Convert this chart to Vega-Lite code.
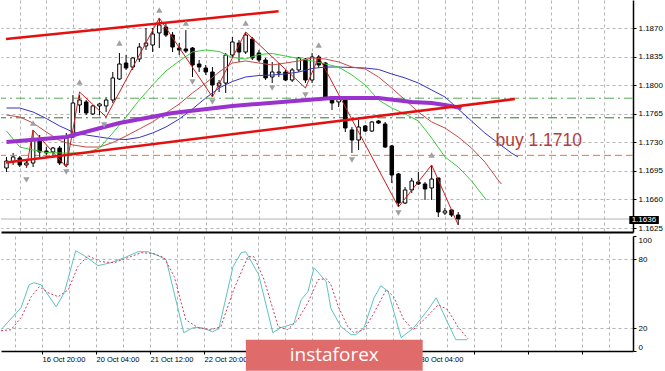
{
  "$schema": "https://vega.github.io/schema/vega-lite/v6.json",
  "padding": 0,
  "background": "white",
  "spacing": 4,
  "bounds": "flush",
  "config": {
    "view": {"stroke": null},
    "axis": {"labelFont": "Liberation Sans", "labelFontSize": 8, "labelColor": "#000", "gridColor": "#b4b4b4", "gridDash": [3, 3], "gridWidth": 1, "gridOpacity": 1, "domainColor": "#000", "tickColor": "#000", "tickSize": 3, "labelPadding": 2, "labelOverlap": false, "labelBound": false}
  },
  "datasets": {
    "candles": [
      {"t": 2, "o": 1.16985, "h": 1.1712, "l": 1.16936, "c": 1.17071},
      {"t": 3, "o": 1.17059, "h": 1.17169, "l": 1.17022, "c": 1.1712},
      {"t": 4, "o": 1.17108, "h": 1.17132, "l": 1.16997, "c": 1.17022},
      {"t": 5, "o": 1.17022, "h": 1.17071, "l": 1.16985, "c": 1.17046},
      {"t": 6, "o": 1.17046, "h": 1.17451, "l": 1.16997, "c": 1.17328},
      {"t": 7, "o": 1.17328, "h": 1.17389, "l": 1.1712, "c": 1.17181},
      {"t": 8, "o": 1.17193, "h": 1.17242, "l": 1.17108, "c": 1.17169},
      {"t": 9, "o": 1.17181, "h": 1.17242, "l": 1.1712, "c": 1.1723},
      {"t": 10, "o": 1.1723, "h": 1.17255, "l": 1.17022, "c": 1.17046},
      {"t": 11, "o": 1.17022, "h": 1.17414, "l": 1.16997, "c": 1.17365},
      {"t": 12, "o": 1.17365, "h": 1.17879, "l": 1.17353, "c": 1.17781},
      {"t": 13, "o": 1.17757, "h": 1.17879, "l": 1.17659, "c": 1.17818},
      {"t": 14, "o": 1.17794, "h": 1.17818, "l": 1.17634, "c": 1.17659},
      {"t": 15, "o": 1.17647, "h": 1.17757, "l": 1.17634, "c": 1.17745},
      {"t": 16, "o": 1.17745, "h": 1.17782, "l": 1.17634, "c": 1.17769},
      {"t": 17, "o": 1.17745, "h": 1.17855, "l": 1.17671, "c": 1.17818},
      {"t": 18, "o": 1.17818, "h": 1.18161, "l": 1.17781, "c": 1.18088},
      {"t": 19, "o": 1.18075, "h": 1.18394, "l": 1.18063, "c": 1.18259},
      {"t": 20, "o": 1.18271, "h": 1.18369, "l": 1.18186, "c": 1.1821},
      {"t": 21, "o": 1.18222, "h": 1.18345, "l": 1.18186, "c": 1.18333},
      {"t": 22, "o": 1.1832, "h": 1.18516, "l": 1.18284, "c": 1.18467},
      {"t": 23, "o": 1.1848, "h": 1.187, "l": 1.18431, "c": 1.18516},
      {"t": 24, "o": 1.18492, "h": 1.187, "l": 1.18406, "c": 1.18627},
      {"t": 25, "o": 1.18639, "h": 1.18823, "l": 1.18455, "c": 1.18737},
      {"t": 26, "o": 1.18712, "h": 1.18749, "l": 1.1859, "c": 1.18614},
      {"t": 27, "o": 1.18614, "h": 1.18651, "l": 1.18406, "c": 1.18467},
      {"t": 28, "o": 1.18455, "h": 1.18516, "l": 1.18369, "c": 1.18431},
      {"t": 29, "o": 1.18443, "h": 1.18676, "l": 1.18394, "c": 1.18418},
      {"t": 30, "o": 1.18455, "h": 1.18467, "l": 1.181, "c": 1.18247},
      {"t": 31, "o": 1.18259, "h": 1.18308, "l": 1.18161, "c": 1.18222},
      {"t": 32, "o": 1.1821, "h": 1.18247, "l": 1.18124, "c": 1.18161},
      {"t": 33, "o": 1.18161, "h": 1.18222, "l": 1.17855, "c": 1.18002},
      {"t": 34, "o": 1.1799, "h": 1.18063, "l": 1.17916, "c": 1.18026},
      {"t": 35, "o": 1.18026, "h": 1.18394, "l": 1.17904, "c": 1.18369},
      {"t": 36, "o": 1.18369, "h": 1.1859, "l": 1.18333, "c": 1.18529},
      {"t": 37, "o": 1.18516, "h": 1.18553, "l": 1.18284, "c": 1.18406},
      {"t": 38, "o": 1.18406, "h": 1.18651, "l": 1.18382, "c": 1.18614},
      {"t": 39, "o": 1.18565, "h": 1.1859, "l": 1.18308, "c": 1.18333},
      {"t": 40, "o": 1.18394, "h": 1.18431, "l": 1.18284, "c": 1.18308},
      {"t": 41, "o": 1.18308, "h": 1.18333, "l": 1.18063, "c": 1.18088},
      {"t": 42, "o": 1.181, "h": 1.18284, "l": 1.18026, "c": 1.18161},
      {"t": 43, "o": 1.18149, "h": 1.18271, "l": 1.181, "c": 1.18161},
      {"t": 44, "o": 1.18161, "h": 1.18186, "l": 1.18051, "c": 1.18063},
      {"t": 45, "o": 1.18063, "h": 1.1821, "l": 1.18039, "c": 1.18186},
      {"t": 46, "o": 1.18186, "h": 1.18345, "l": 1.18161, "c": 1.18333},
      {"t": 47, "o": 1.1832, "h": 1.18333, "l": 1.18026, "c": 1.18063},
      {"t": 48, "o": 1.18063, "h": 1.18394, "l": 1.18026, "c": 1.18345},
      {"t": 49, "o": 1.18345, "h": 1.18369, "l": 1.1821, "c": 1.18247},
      {"t": 50, "o": 1.18271, "h": 1.18284, "l": 1.17818, "c": 1.17855},
      {"t": 51, "o": 1.17855, "h": 1.17867, "l": 1.17696, "c": 1.17781},
      {"t": 52, "o": 1.17794, "h": 1.17855, "l": 1.17732, "c": 1.1783},
      {"t": 53, "o": 1.17818, "h": 1.17843, "l": 1.17426, "c": 1.17475},
      {"t": 54, "o": 1.17451, "h": 1.17487, "l": 1.17169, "c": 1.17328},
      {"t": 55, "o": 1.17328, "h": 1.17573, "l": 1.17206, "c": 1.17487},
      {"t": 56, "o": 1.175, "h": 1.17512, "l": 1.17426, "c": 1.17438},
      {"t": 57, "o": 1.17438, "h": 1.17561, "l": 1.17426, "c": 1.17549},
      {"t": 58, "o": 1.17561, "h": 1.17573, "l": 1.17524, "c": 1.17536},
      {"t": 59, "o": 1.17524, "h": 1.17549, "l": 1.1723, "c": 1.17242},
      {"t": 60, "o": 1.17255, "h": 1.17267, "l": 1.16801, "c": 1.16899},
      {"t": 61, "o": 1.16912, "h": 1.16924, "l": 1.16507, "c": 1.16556},
      {"t": 62, "o": 1.16556, "h": 1.16752, "l": 1.16544, "c": 1.16716},
      {"t": 63, "o": 1.16716, "h": 1.16863, "l": 1.16679, "c": 1.16826},
      {"t": 64, "o": 1.16814, "h": 1.16936, "l": 1.16777, "c": 1.16789},
      {"t": 65, "o": 1.16789, "h": 1.16814, "l": 1.16593, "c": 1.16728},
      {"t": 66, "o": 1.1674, "h": 1.17022, "l": 1.16593, "c": 1.1685},
      {"t": 67, "o": 1.16863, "h": 1.16863, "l": 1.16385, "c": 1.16446},
      {"t": 68, "o": 1.16434, "h": 1.16495, "l": 1.16409, "c": 1.16458},
      {"t": 69, "o": 1.16471, "h": 1.16483, "l": 1.16385, "c": 1.16409},
      {"t": 70, "o": 1.16409, "h": 1.16446, "l": 1.16287, "c": 1.1636}
    ],
    "ind": [
      {"s": "jaw", "t": 2, "v": 1.1772}, {"s": "jaw", "t": 4, "v": 1.1772}, {"s": "jaw", "t": 6, "v": 1.17671}, {"s": "jaw", "t": 8, "v": 1.17591}, {"s": "jaw", "t": 10, "v": 1.175}, {"s": "jaw", "t": 12, "v": 1.17426}, {"s": "jaw", "t": 14, "v": 1.17389}, {"s": "jaw", "t": 16, "v": 1.17365}, {"s": "jaw", "t": 18, "v": 1.1734}, {"s": "jaw", "t": 20, "v": 1.17334}, {"s": "jaw", "t": 22, "v": 1.17359}, {"s": "jaw", "t": 24, "v": 1.17414}, {"s": "jaw", "t": 26, "v": 1.17487}, {"s": "jaw", "t": 28, "v": 1.17585}, {"s": "jaw", "t": 30, "v": 1.17708}, {"s": "jaw", "t": 32, "v": 1.17843}, {"s": "jaw", "t": 34, "v": 1.17965}, {"s": "jaw", "t": 36, "v": 1.18045}, {"s": "jaw", "t": 38, "v": 1.181}, {"s": "jaw", "t": 40, "v": 1.18118}, {"s": "jaw", "t": 42, "v": 1.18124}, {"s": "jaw", "t": 44, "v": 1.18137}, {"s": "jaw", "t": 46, "v": 1.18161}, {"s": "jaw", "t": 48, "v": 1.18204}, {"s": "jaw", "t": 50, "v": 1.18222}, {"s": "jaw", "t": 52, "v": 1.18222}, {"s": "jaw", "t": 54, "v": 1.18216}, {"s": "jaw", "t": 56, "v": 1.1821}, {"s": "jaw", "t": 58, "v": 1.18192}, {"s": "jaw", "t": 60, "v": 1.18137}, {"s": "jaw", "t": 62, "v": 1.18088}, {"s": "jaw", "t": 64, "v": 1.18026}, {"s": "jaw", "t": 66, "v": 1.17941}, {"s": "jaw", "t": 68, "v": 1.17855}, {"s": "jaw", "t": 70, "v": 1.17708}, {"s": "jaw", "t": 72, "v": 1.17561}, {"s": "jaw", "t": 74, "v": 1.17414}, {"s": "jaw", "t": 76, "v": 1.17291}, {"s": "jaw", "t": 78, "v": 1.17169}, {"s": "jaw", "t": 79, "v": 1.1712},
      {"s": "teeth", "t": 2, "v": 1.17634}, {"s": "teeth", "t": 4, "v": 1.1761}, {"s": "teeth", "t": 6, "v": 1.17536}, {"s": "teeth", "t": 8, "v": 1.17426}, {"s": "teeth", "t": 10, "v": 1.17322}, {"s": "teeth", "t": 12, "v": 1.17267}, {"s": "teeth", "t": 14, "v": 1.17242}, {"s": "teeth", "t": 16, "v": 1.17242}, {"s": "teeth", "t": 18, "v": 1.17297}, {"s": "teeth", "t": 20, "v": 1.17377}, {"s": "teeth", "t": 22, "v": 1.17463}, {"s": "teeth", "t": 24, "v": 1.17549}, {"s": "teeth", "t": 26, "v": 1.17659}, {"s": "teeth", "t": 28, "v": 1.17769}, {"s": "teeth", "t": 30, "v": 1.17904}, {"s": "teeth", "t": 32, "v": 1.18026}, {"s": "teeth", "t": 34, "v": 1.18161}, {"s": "teeth", "t": 36, "v": 1.18271}, {"s": "teeth", "t": 38, "v": 1.18296}, {"s": "teeth", "t": 40, "v": 1.18271}, {"s": "teeth", "t": 42, "v": 1.18247}, {"s": "teeth", "t": 44, "v": 1.18271}, {"s": "teeth", "t": 46, "v": 1.18296}, {"s": "teeth", "t": 48, "v": 1.18333}, {"s": "teeth", "t": 50, "v": 1.1832}, {"s": "teeth", "t": 52, "v": 1.18284}, {"s": "teeth", "t": 54, "v": 1.18222}, {"s": "teeth", "t": 56, "v": 1.18198}, {"s": "teeth", "t": 58, "v": 1.181}, {"s": "teeth", "t": 60, "v": 1.17965}, {"s": "teeth", "t": 62, "v": 1.17818}, {"s": "teeth", "t": 64, "v": 1.17671}, {"s": "teeth", "t": 66, "v": 1.17549}, {"s": "teeth", "t": 68, "v": 1.17475}, {"s": "teeth", "t": 70, "v": 1.17365}, {"s": "teeth", "t": 72, "v": 1.1723}, {"s": "teeth", "t": 74, "v": 1.17059}, {"s": "teeth", "t": 76, "v": 1.16838}, {"s": "teeth", "t": 76.5, "v": 1.16789},
      {"s": "lips", "t": 2, "v": 1.17438}, {"s": "lips", "t": 4, "v": 1.17242}, {"s": "lips", "t": 6, "v": 1.17206}, {"s": "lips", "t": 8, "v": 1.17175}, {"s": "lips", "t": 10, "v": 1.17169}, {"s": "lips", "t": 12, "v": 1.17169}, {"s": "lips", "t": 14, "v": 1.17169}, {"s": "lips", "t": 16, "v": 1.1723}, {"s": "lips", "t": 18, "v": 1.17414}, {"s": "lips", "t": 20, "v": 1.1761}, {"s": "lips", "t": 22, "v": 1.17818}, {"s": "lips", "t": 24, "v": 1.18002}, {"s": "lips", "t": 26, "v": 1.18173}, {"s": "lips", "t": 28, "v": 1.18296}, {"s": "lips", "t": 30, "v": 1.18406}, {"s": "lips", "t": 32, "v": 1.18431}, {"s": "lips", "t": 34, "v": 1.18412}, {"s": "lips", "t": 36, "v": 1.18339}, {"s": "lips", "t": 38, "v": 1.1832}, {"s": "lips", "t": 40, "v": 1.18375}, {"s": "lips", "t": 42, "v": 1.18388}, {"s": "lips", "t": 44, "v": 1.18357}, {"s": "lips", "t": 46, "v": 1.18326}, {"s": "lips", "t": 48, "v": 1.18296}, {"s": "lips", "t": 50, "v": 1.18259}, {"s": "lips", "t": 52, "v": 1.18222}, {"s": "lips", "t": 54, "v": 1.18124}, {"s": "lips", "t": 56, "v": 1.18002}, {"s": "lips", "t": 58, "v": 1.17818}, {"s": "lips", "t": 60, "v": 1.1772}, {"s": "lips", "t": 62, "v": 1.17647}, {"s": "lips", "t": 64, "v": 1.17561}, {"s": "lips", "t": 66, "v": 1.17353}, {"s": "lips", "t": 68, "v": 1.1712}, {"s": "lips", "t": 70, "v": 1.16997}, {"s": "lips", "t": 72, "v": 1.16826}, {"s": "lips", "t": 74, "v": 1.16618}, {"s": "lips", "t": 74.2, "v": 1.16593},
      {"s": "zig", "t": 5, "v": 1.16985}, {"s": "zig", "t": 6, "v": 1.17451}, {"s": "zig", "t": 11, "v": 1.16997}, {"s": "zig", "t": 13, "v": 1.17916}, {"s": "zig", "t": 17, "v": 1.1761}, {"s": "zig", "t": 25, "v": 1.18823}, {"s": "zig", "t": 33, "v": 1.17855}, {"s": "zig", "t": 38, "v": 1.18651}, {"s": "zig", "t": 47, "v": 1.17965}, {"s": "zig", "t": 49, "v": 1.18345}, {"s": "zig", "t": 61, "v": 1.16507}, {"s": "zig", "t": 66, "v": 1.17022}, {"s": "zig", "t": 70, "v": 1.16287}
    ],
    "ma200": [
      {"t": 2, "v": 1.17304}, {"t": 11, "v": 1.17365}, {"t": 19, "v": 1.17536}, {"t": 27, "v": 1.17659}, {"t": 36, "v": 1.17745}, {"t": 51, "v": 1.17843}, {"t": 58, "v": 1.17843}, {"t": 63, "v": 1.17794}, {"t": 66, "v": 1.17781}, {"t": 68, "v": 1.17757}, {"t": 70.5, "v": 1.1772}
    ],
    "channel": [
      {"line": "upper", "t": 1.926, "v": 1.18565}, {"line": "upper", "t": 42.96, "v": 1.18906},
      {"line": "lower", "t": 1.926, "v": 1.17052}, {"line": "lower", "t": 78.52, "v": 1.1783}
    ],
    "levels": [
      {"kind": "g1", "v": 1.1784}, {"kind": "g2", "v": 1.176}, {"kind": "buy", "v": 1.1714}, {"kind": "bid", "v": 1.1636}
    ],
    "fractals": [
      {"dir": "up", "t": 6, "v": 1.17536}, {"dir": "up", "t": 13, "v": 1.18039}, {"dir": "up", "t": 19, "v": 1.18516}, {"dir": "up", "t": 25, "v": 1.18921}, {"dir": "up", "t": 29, "v": 1.18761}, {"dir": "up", "t": 38, "v": 1.18761}, {"dir": "up", "t": 49, "v": 1.18492}, {"dir": "up", "t": 66, "v": 1.17144},
      {"dir": "down", "t": 5, "v": 1.16838}, {"dir": "down", "t": 11, "v": 1.16936}, {"dir": "down", "t": 16.7, "v": 1.17512}, {"dir": "down", "t": 30, "v": 1.18039}, {"dir": "down", "t": 33, "v": 1.17794}, {"dir": "down", "t": 42, "v": 1.17965}, {"dir": "down", "t": 47, "v": 1.17879}, {"dir": "down", "t": 54, "v": 1.17083}, {"dir": "down", "t": 61, "v": 1.16434}
    ],
    "notes": [
      {"label": "buy 1.1710", "t": 75.6, "v": 1.1732}
    ],
    "stoch": [
      {"s": "K", "t": 1.93, "v": 18.5}, {"s": "K", "t": 4.9, "v": 37.7}, {"s": "K", "t": 6.1, "v": 57.6}, {"s": "K", "t": 6.8, "v": 59.4}, {"s": "K", "t": 7.85, "v": 57.6}, {"s": "K", "t": 10.1, "v": 38.5}, {"s": "K", "t": 11.3, "v": 50.7}, {"s": "K", "t": 13.0, "v": 87.2}, {"s": "K", "t": 14.5, "v": 82}, {"s": "K", "t": 16.3, "v": 74.2}, {"s": "K", "t": 18.2, "v": 76.8}, {"s": "K", "t": 20.2, "v": 81.1}, {"s": "K", "t": 22.2, "v": 86.3}, {"s": "K", "t": 23.7, "v": 86.3}, {"s": "K", "t": 25.2, "v": 82.9}, {"s": "K", "t": 26.4, "v": 79.4}, {"s": "K", "t": 29.0, "v": 15.9}, {"s": "K", "t": 30.4, "v": 20.3}, {"s": "K", "t": 31.6, "v": 20.3}, {"s": "K", "t": 33.3, "v": 16.8}, {"s": "K", "t": 34.2, "v": 19.4}, {"s": "K", "t": 36.3, "v": 73.3}, {"s": "K", "t": 37.5, "v": 85.5}, {"s": "K", "t": 38.2, "v": 86.3}, {"s": "K", "t": 40.1, "v": 66.3}, {"s": "K", "t": 42.2, "v": 15.9}, {"s": "K", "t": 43.4, "v": 20.3}, {"s": "K", "t": 45.3, "v": 23.7}, {"s": "K", "t": 46.4, "v": 44.6}, {"s": "K", "t": 47.4, "v": 51.6}, {"s": "K", "t": 48.3, "v": 72.4}, {"s": "K", "t": 50.1, "v": 60.3}, {"s": "K", "t": 50.8, "v": 37}, {"s": "K", "t": 52.3, "v": 21.1}, {"s": "K", "t": 53.8, "v": 14.2}, {"s": "K", "t": 54.5, "v": 14.2}, {"s": "K", "t": 55.7, "v": 20.3}, {"s": "K", "t": 57.2, "v": 46.3}, {"s": "K", "t": 58.2, "v": 56.8}, {"s": "K", "t": 59.3, "v": 51.6}, {"s": "K", "t": 61.2, "v": 11.6}, {"s": "K", "t": 63.1, "v": 20.3}, {"s": "K", "t": 65.2, "v": 36}, {"s": "K", "t": 66.4, "v": 46.3}, {"s": "K", "t": 67.9, "v": 27.2}, {"s": "K", "t": 69.3, "v": 9.8}, {"s": "K", "t": 71, "v": 9.8},
      {"s": "D", "t": 1.93, "v": 17.7}, {"s": "D", "t": 3.4, "v": 18.5}, {"s": "D", "t": 4.9, "v": 29}, {"s": "D", "t": 6.4, "v": 47.2}, {"s": "D", "t": 7.6, "v": 55.9}, {"s": "D", "t": 8.9, "v": 50.7}, {"s": "D", "t": 10.4, "v": 47.2}, {"s": "D", "t": 11.9, "v": 53.3}, {"s": "D", "t": 13.3, "v": 73.3}, {"s": "D", "t": 14.8, "v": 82.9}, {"s": "D", "t": 16.7, "v": 77.7}, {"s": "D", "t": 18.7, "v": 76.8}, {"s": "D", "t": 20.7, "v": 81.1}, {"s": "D", "t": 22.7, "v": 85.5}, {"s": "D", "t": 24.6, "v": 84.6}, {"s": "D", "t": 26.1, "v": 81.1}, {"s": "D", "t": 27.6, "v": 64.6}, {"s": "D", "t": 29.3, "v": 27.2}, {"s": "D", "t": 31.1, "v": 20.3}, {"s": "D", "t": 33, "v": 18.5}, {"s": "D", "t": 34.5, "v": 21.1}, {"s": "D", "t": 36.4, "v": 53.3}, {"s": "D", "t": 38.5, "v": 82}, {"s": "D", "t": 39.4, "v": 82}, {"s": "D", "t": 40.9, "v": 62}, {"s": "D", "t": 43, "v": 21.1}, {"s": "D", "t": 44.4, "v": 18.5}, {"s": "D", "t": 45.9, "v": 27.2}, {"s": "D", "t": 47.4, "v": 42}, {"s": "D", "t": 48.9, "v": 62}, {"s": "D", "t": 50.1, "v": 62.9}, {"s": "D", "t": 50.8, "v": 57.7}, {"s": "D", "t": 51.9, "v": 38.5}, {"s": "D", "t": 53.3, "v": 21.1}, {"s": "D", "t": 54.2, "v": 15.9}, {"s": "D", "t": 55.7, "v": 18.5}, {"s": "D", "t": 57.2, "v": 33.3}, {"s": "D", "t": 59, "v": 53.3}, {"s": "D", "t": 60.1, "v": 47.2}, {"s": "D", "t": 61.6, "v": 27.2}, {"s": "D", "t": 63, "v": 18.5}, {"s": "D", "t": 64.6, "v": 27.2}, {"s": "D", "t": 66.7, "v": 40.2}, {"s": "D", "t": 68.1, "v": 35.9}, {"s": "D", "t": 69.6, "v": 21.1}, {"s": "D", "t": 71.1, "v": 10.7}
    ]
  },
  "vconcat": [
    {
      "width": 632,
      "height": 232,
      "resolve": {"axis": {"x": "independent", "y": "independent"}},
      "layer": [
        {
          "data": {"name": "candles"},
          "mark": {"type": "rule", "color": "#000", "strokeWidth": 1, "clip": true},
          "encoding": {
            "x": {"field": "t", "type": "quantitative", "scale": {"domain": [1.926, 95.556], "nice": false, "zero": false},
              "axis": {"title": null, "values": [4, 8, 12, 16, 20, 24, 28, 32, 36, 40, 44, 48, 52, 56, 60, 64, 68, 72, 76, 80, 84, 88, 92], "labels": false, "ticks": false, "domain": true, "domainWidth": 2, "grid": true}},
            "y": {"field": "l", "type": "quantitative", "scale": {"domain": [1.16201, 1.19043], "nice": false, "zero": false},
              "axis": {"orient": "right", "title": null, "values": [1.1625, 1.166, 1.1695, 1.173, 1.1765, 1.18, 1.1835, 1.187], "format": ".4f", "grid": true, "labelOverlap": false, "domainWidth": 1.5}},
            "y2": {"field": "h"}
          }
        },
        {
          "data": {"name": "levels"},
          "transform": [{"filter": "datum.kind == 'g1'"}],
          "mark": {"type": "rule", "strokeWidth": 1, "color": "#5aaa5a", "strokeDash": [9, 4, 2, 4]},
          "encoding": {"y": {"field": "v", "type": "quantitative", "axis": null}}
        },
        {
          "data": {"name": "levels"},
          "transform": [{"filter": "datum.kind == 'g2'"}],
          "mark": {"type": "rule", "strokeWidth": 1, "color": "#2e7a2e", "strokeDash": [9, 4, 2, 4]},
          "encoding": {"y": {"field": "v", "type": "quantitative", "axis": null}}
        },
        {
          "data": {"name": "levels"},
          "transform": [{"filter": "datum.kind == 'buy'"}],
          "mark": {"type": "rule", "strokeWidth": 1, "color": "#e8763e", "strokeDash": [7, 4]},
          "encoding": {"y": {"field": "v", "type": "quantitative", "axis": null}}
        },
        {
          "data": {"name": "levels"},
          "transform": [{"filter": "datum.kind == 'bid'"}],
          "mark": {"type": "rule", "strokeWidth": 1, "color": "#b4b4b4"},
          "encoding": {"y": {"field": "v", "type": "quantitative", "axis": null}}
        },
        {
          "data": {"name": "candles"},
          "mark": {"type": "bar", "size": 3.5, "stroke": "#000", "strokeWidth": 1, "clip": true},
          "encoding": {
            "x": {"field": "t", "type": "quantitative", "axis": null},
            "y": {"field": "o", "type": "quantitative", "axis": null},
            "y2": {"field": "c"},
            "fill": {"condition": {"test": "datum.c >= datum.o", "value": "#ffffff"}, "value": "#000000"}
          }
        },
        {
          "data": {"name": "ind"},
          "transform": [{"filter": "datum.s == 'jaw'"}],
          "mark": {"type": "line", "strokeWidth": 1, "color": "#3434c4", "clip": true},
          "encoding": {"x": {"field": "t", "type": "quantitative", "axis": null}, "y": {"field": "v", "type": "quantitative", "axis": null}}
        },
        {
          "data": {"name": "ind"},
          "transform": [{"filter": "datum.s == 'teeth'"}],
          "mark": {"type": "line", "strokeWidth": 1, "color": "#c84a4a", "clip": true},
          "encoding": {"x": {"field": "t", "type": "quantitative", "axis": null}, "y": {"field": "v", "type": "quantitative", "axis": null}}
        },
        {
          "data": {"name": "ind"},
          "transform": [{"filter": "datum.s == 'lips'"}],
          "mark": {"type": "line", "strokeWidth": 1, "color": "#3ccc3c", "clip": true},
          "encoding": {"x": {"field": "t", "type": "quantitative", "axis": null}, "y": {"field": "v", "type": "quantitative", "axis": null}}
        },
        {
          "data": {"name": "ind"},
          "transform": [{"filter": "datum.s == 'zig'"}],
          "mark": {"type": "line", "strokeWidth": 1, "color": "#cc1c1c", "clip": true},
          "encoding": {"x": {"field": "t", "type": "quantitative", "axis": null}, "y": {"field": "v", "type": "quantitative", "axis": null}}
        },
        {
          "data": {"name": "ma200"},
          "mark": {"type": "line", "strokeWidth": 4, "color": "#9a32cd", "clip": true},
          "encoding": {"x": {"field": "t", "type": "quantitative", "axis": null}, "y": {"field": "v", "type": "quantitative", "axis": null}}
        },
        {
          "data": {"name": "channel"},
          "mark": {"type": "line", "strokeWidth": 2.5, "color": "#e41010", "clip": true},
          "encoding": {
            "x": {"field": "t", "type": "quantitative", "axis": null},
            "y": {"field": "v", "type": "quantitative", "axis": null},
            "detail": {"field": "line", "type": "nominal"}
          }
        },
        {
          "data": {"name": "fractals"},
          "transform": [{"filter": "datum.dir == 'up'"}],
          "mark": {"type": "point", "filled": true, "size": 40, "shape": "triangle-up", "color": "#a0a0a0", "opacity": 1, "clip": true},
          "encoding": {"x": {"field": "t", "type": "quantitative", "axis": null}, "y": {"field": "v", "type": "quantitative", "axis": null}}
        },
        {
          "data": {"name": "fractals"},
          "transform": [{"filter": "datum.dir == 'down'"}],
          "mark": {"type": "point", "filled": true, "size": 40, "shape": "triangle-down", "color": "#a0a0a0", "opacity": 1, "clip": true},
          "encoding": {"x": {"field": "t", "type": "quantitative", "axis": null}, "y": {"field": "v", "type": "quantitative", "axis": null}}
        },
        {
          "data": {"name": "notes"},
          "mark": {"type": "text", "align": "left", "baseline": "middle", "font": "Liberation Sans", "fontSize": 17.5, "color": "#b53b3b"},
          "encoding": {
            "x": {"field": "t", "type": "quantitative", "axis": null},
            "y": {"field": "v", "type": "quantitative", "axis": null},
            "text": {"field": "label"}
          }
        },
        {
          "data": {"values": [{}]},
          "mark": {"type": "rect", "color": "#000"},
          "encoding": {
            "x": {"datum": 95.75, "type": "quantitative", "axis": null},
            "x2": {"datum": 100.2},
            "y": {"datum": 1.16397, "type": "quantitative", "axis": null},
            "y2": {"datum": 1.16299}
          }
        },
        {
          "data": {"values": [{}]},
          "mark": {"type": "text", "align": "center", "baseline": "middle", "font": "Liberation Sans", "fontSize": 8, "color": "#fff", "text": "1.1636"},
          "encoding": {
            "x": {"datum": 97.95, "type": "quantitative", "axis": null},
            "y": {"datum": 1.16348, "type": "quantitative", "axis": null}
          }
        }
      ]
    },
    {
      "width": 632,
      "height": 115,
      "resolve": {"axis": {"x": "independent", "y": "independent"}},
      "layer": [
        {
          "data": {"name": "stoch"},
          "transform": [{"filter": "datum.s == 'K'"}],
          "mark": {"type": "line", "strokeWidth": 1, "color": "#5ec2c2", "clip": true},
          "encoding": {
            "x": {"field": "t", "type": "quantitative", "scale": {"domain": [1.926, 95.556], "nice": false, "zero": false},
              "axis": {"title": null, "values": [4, 8, 12, 16, 20, 24, 28, 32, 36, 40, 44, 48, 52, 56, 60, 64, 68, 72, 76, 80, 84, 88, 92], "labelExpr": "(datum.value % 8 == 0 && datum.value <= 64 && (datum.value < 40 || datum.value > 56)) ? ['15 Oct 12:00','16 Oct 20:00','20 Oct 04:00','21 Oct 12:00','22 Oct 20:00','26 Oct 04:00','27 Oct 12:00','28 Oct 20:00','30 Oct 04:00'][datum.value / 8] : ''", "labelAlign": "left", "labelFontSize": 7.5, "labelFlush": false, "labelOverlap": false, "labelPadding": 1, "tickSize": 3, "tickOpacity": {"condition": {"test": "datum.value % 8 == 0", "value": 1}, "value": 0}, "grid": true, "domainWidth": 1.5}},
            "y": {"field": "v", "type": "quantitative", "scale": {"domain": [0, 100], "nice": false},
              "axis": {"orient": "right", "title": null, "values": [0, 20, 80, 100], "labelFlush": true, "labelOverlap": false, "grid": true, "gridOpacity": {"condition": {"test": "datum.value == 20 || datum.value == 80", "value": 1}, "value": 0}, "domainWidth": 1.5}}
          }
        },
        {
          "data": {"name": "stoch"},
          "transform": [{"filter": "datum.s == 'D'"}],
          "mark": {"type": "line", "strokeWidth": 1, "color": "#d23c5a", "strokeDash": [2, 2], "clip": true},
          "encoding": {
            "x": {"field": "t", "type": "quantitative", "axis": null},
            "y": {"field": "v", "type": "quantitative", "axis": null}
          }
        },
        {
          "data": {"values": [{}]},
          "mark": {"type": "rect", "color": "#e06b6b"},
          "encoding": {
            "x": {"datum": 38.2, "type": "quantitative", "axis": null},
            "x2": {"datum": 64.4},
            "y": {"datum": 9.8, "type": "quantitative", "axis": null},
            "y2": {"datum": -17.1}
          }
        },
        {
          "data": {"values": [{}]},
          "mark": {"type": "text", "align": "center", "baseline": "middle", "font": "Open Sans", "fontSize": 19, "color": "#ffffff", "text": "instaforex"},
          "encoding": {
            "x": {"datum": 51.3, "type": "quantitative", "axis": null},
            "y": {"datum": -3.5, "type": "quantitative", "axis": null}
          }
        }
      ]
    }
  ]
}
